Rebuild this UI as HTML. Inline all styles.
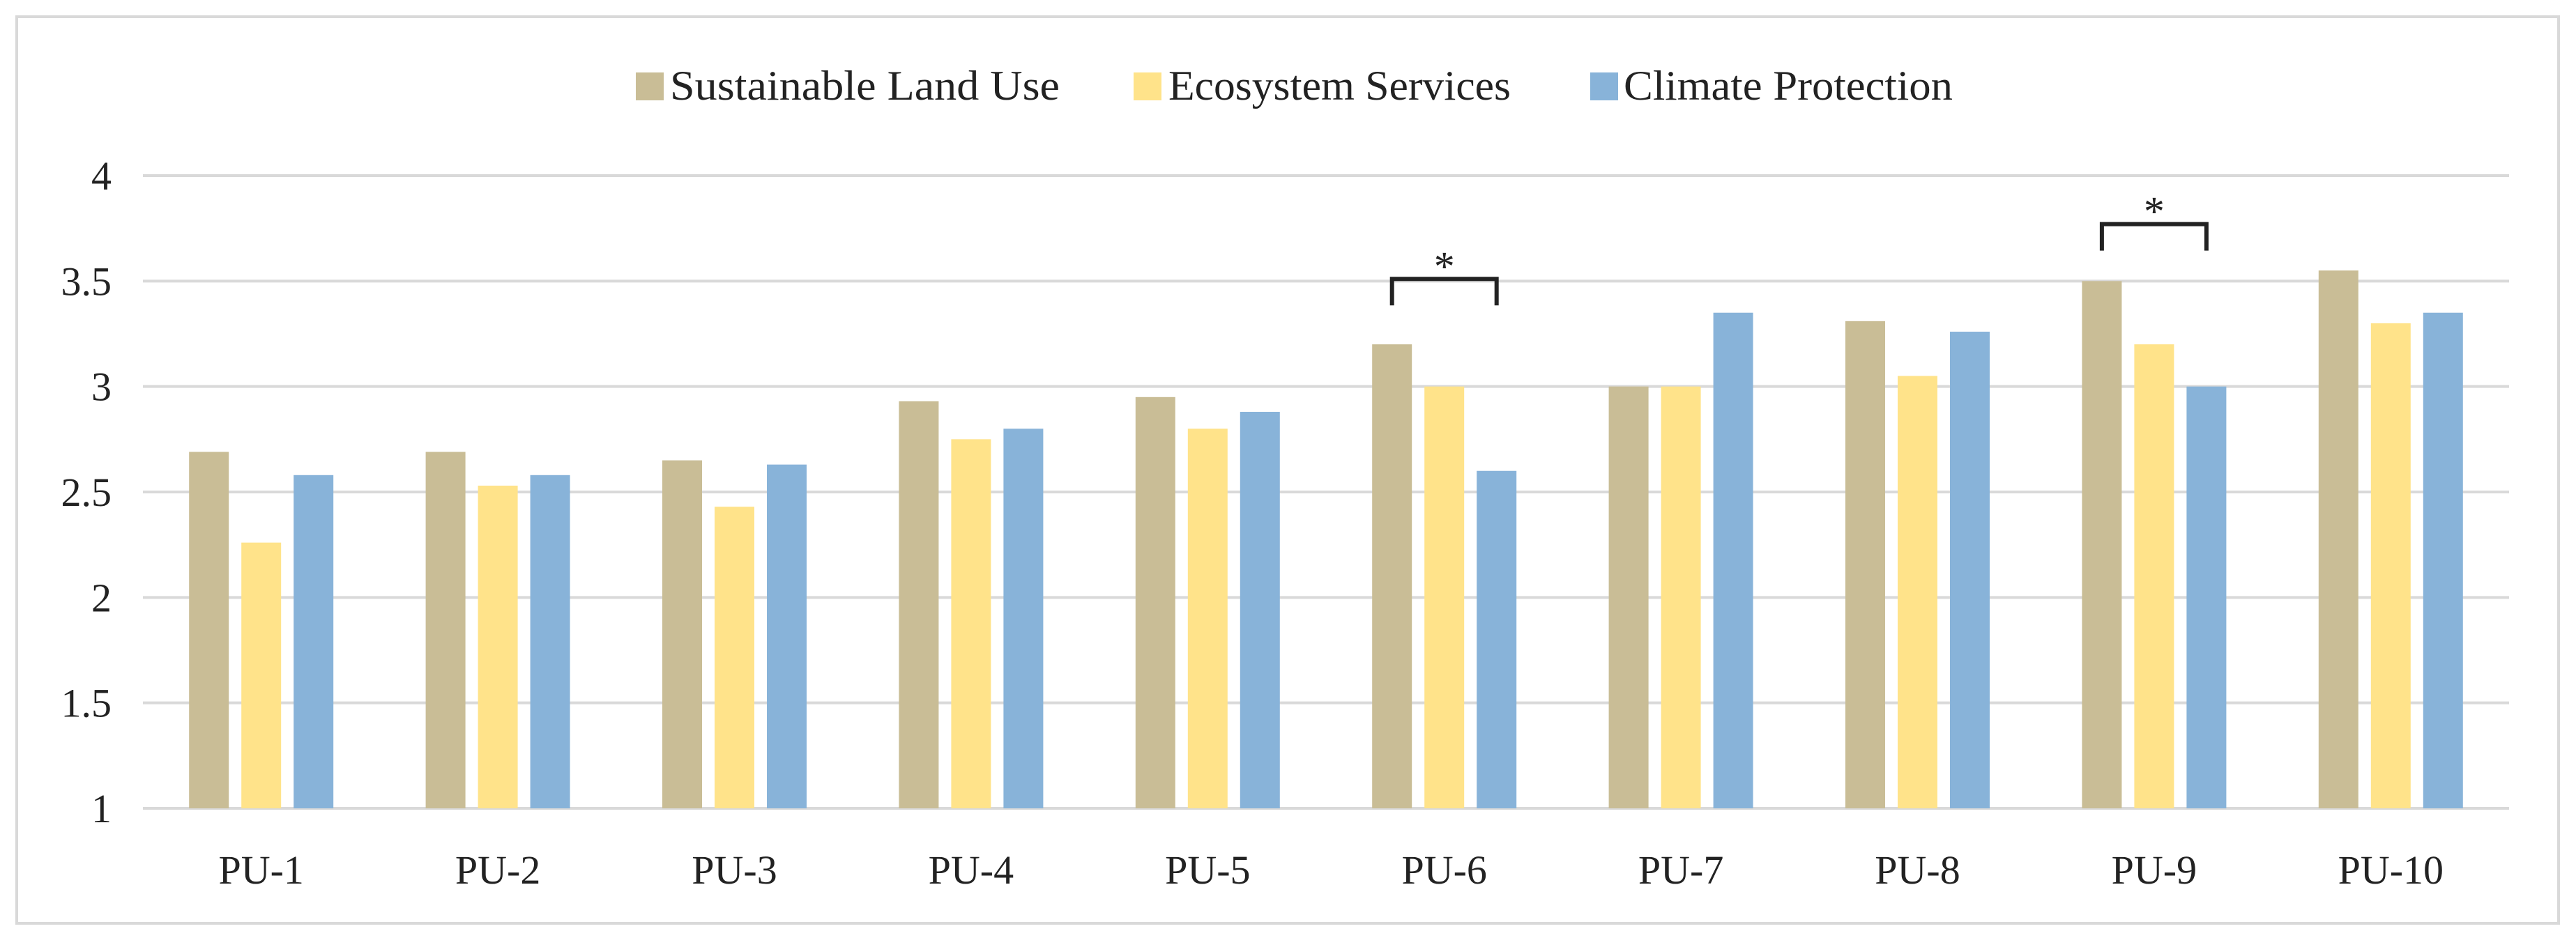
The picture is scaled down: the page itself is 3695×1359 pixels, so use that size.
<!DOCTYPE html>
<html><head><meta charset="utf-8"><style>
html,body{margin:0;padding:0;background:#fff}
svg{display:block}
text{font-family:"Liberation Serif",serif;fill:#222}
</style></head><body>
<svg id="chart" width="3695" height="1359" viewBox="0 0 3695 1359" xmlns="http://www.w3.org/2000/svg">
<rect x="24" y="24" width="3646" height="1301" fill="#fff" stroke="#d9d9d9" stroke-width="4"/>
<g id="legend">
<rect x="912" y="104" width="40" height="40" fill="#c9bd96"/>
<text x="961" y="143" font-size="60" textLength="559" lengthAdjust="spacingAndGlyphs">Sustainable Land Use</text>
<rect x="1626" y="104" width="40" height="40" fill="#ffe38a"/>
<text x="1676" y="143" font-size="60" textLength="491" lengthAdjust="spacingAndGlyphs">Ecosystem Services</text>
<rect x="2281" y="104" width="40" height="40" fill="#88b3d9"/>
<text x="2329" y="143" font-size="60" textLength="472" lengthAdjust="spacingAndGlyphs">Climate Protection</text>
</g>
<g id="grid"></g><g id="bars"></g><g id="labels"></g><g id="annot"></g>
</svg>
<script>
const categories=["PU-1","PU-2","PU-3","PU-4","PU-5","PU-6","PU-7","PU-8","PU-9","PU-10"];
const sustainableLandUse=[2.69,2.69,2.65,2.93,2.95,3.20,3.00,3.31,3.50,3.55];
const ecosystemServices=[2.26,2.53,2.43,2.75,2.80,3.00,3.00,3.05,3.20,3.30];
const climateProtection=[2.58,2.58,2.63,2.80,2.88,2.60,3.35,3.26,3.00,3.35];
const yTicks=[1,1.5,2,2.5,3,3.5,4];
const yTickLabels=["1","1.5","2","2.5","3","3.5","4"];
const sigGroups=[5,8];
const sigLevels=[3.51,3.77];

const NS="http://www.w3.org/2000/svg";
const L=205,R=3599,T=252,B=1160,yMin=1,yMax=4;
const y=v=>B-(v-yMin)/(yMax-yMin)*(B-T);
const gw=(R-L)/categories.length;
const x=i=>L+gw*(i+0.5);
const bw=57,pitch=75;
function mk(tag,parent,attrs){const e=document.createElementNS(NS,tag);for(const k in attrs)e.setAttribute(k,attrs[k]);document.getElementById(parent).appendChild(e);return e;}
yTicks.forEach((t,i)=>{
  const g=mk('line','grid',{x1:L,x2:R,y1:y(t),y2:y(t),stroke:'#d9d9d9','stroke-width':4});
  
  
  const tx=mk('text','labels',{x:160,y:y(t)+20,'font-size':58,'text-anchor':'end'});
  tx.textContent=yTickLabels[i];
  
  
});
const series=[[sustainableLandUse,'#c9bd96','sustainable'],[ecosystemServices,'#ffe38a','ecosystem'],[climateProtection,'#88b3d9','climate']];
categories.forEach((c,i)=>{
  series.forEach((s,j)=>{
    const cx=x(i)+(j-1)*pitch;
    const r=mk('rect','bars',{x:cx-bw/2,y:y(s[0][i]),width:bw,height:B-y(s[0][i]),fill:s[1]});
    
    
  });
  const t=mk('text','labels',{x:x(i),y:1268,'font-size':58,'text-anchor':'middle'});
  t.textContent=c;
  
  
});
sigGroups.forEach((g,k)=>{
  const x1=x(g)-pitch,x2=x(g)+pitch,yy=y(sigLevels[k]);
  const p=mk('path','annot',{d:`M${x1},${yy+38}V${yy}H${x2}V${yy+38}`,fill:'none',stroke:'#222','stroke-width':6});
  
  
  const s=mk('text','annot',{x:x(g),y:yy+2,'font-size':60,'text-anchor':'middle'});
  s.textContent='*';
  
  
});
</script>
</body></html>
